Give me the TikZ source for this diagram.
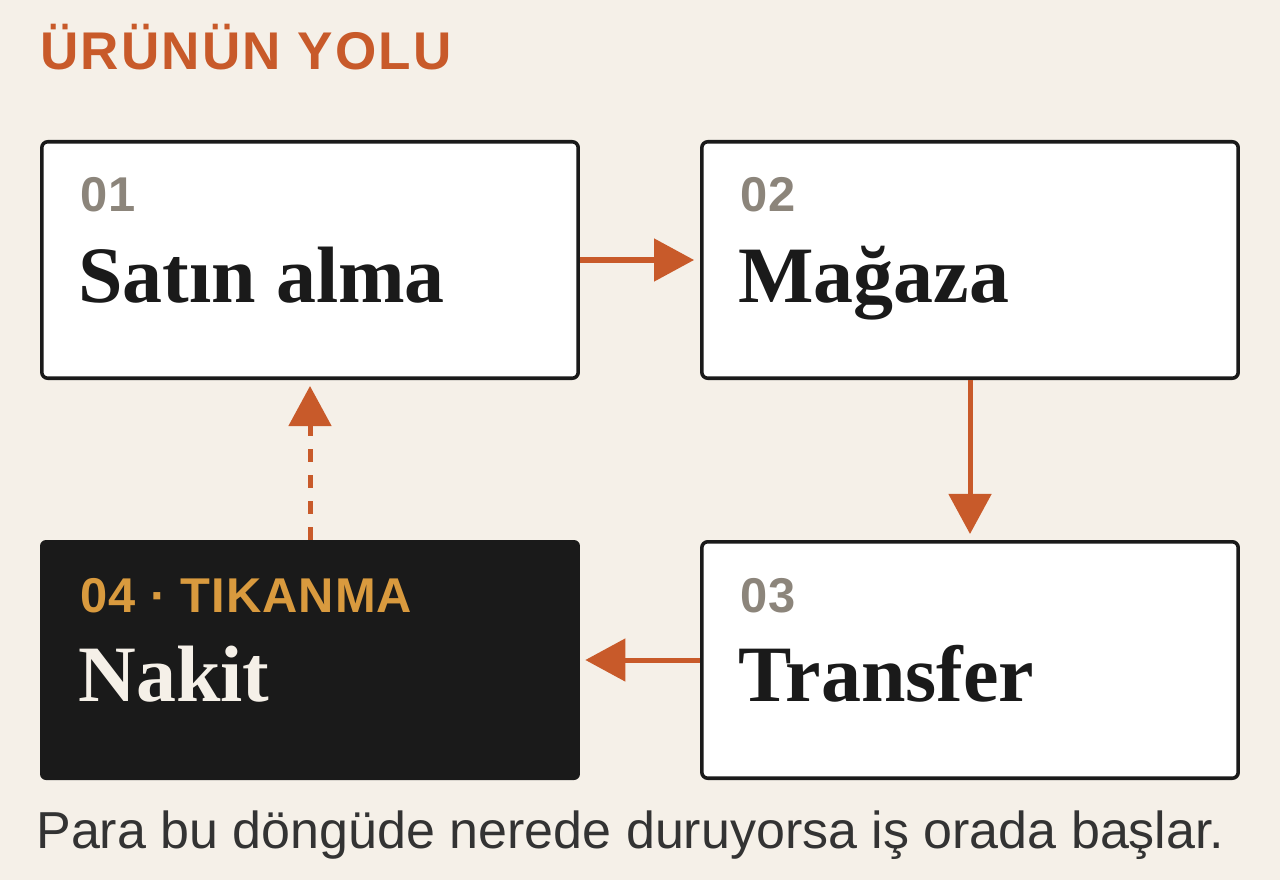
\documentclass[tikz,border=0pt]{standalone}
\usepackage{fontspec}
\setmainfont{Liberation Serif}
\setsansfont{Liberation Sans}
\usetikzlibrary{arrows.meta}
\definecolor{paper}{HTML}{F5F0E8}
\definecolor{rust}{HTML}{C85A2A}
\definecolor{ink}{HTML}{1A1A1A}
\definecolor{stone}{HTML}{8C857B}
\definecolor{ochre}{HTML}{D99A3E}
\definecolor{note}{HTML}{333333}
\newcommand{\headfont}{\sffamily\bfseries\addfontfeatures{LetterSpace=4}\fontsize{30.2pt}{34pt}\selectfont}
\newcommand{\boxnumfont}{\sffamily\bfseries\addfontfeatures{LetterSpace=2}\fontsize{27.8pt}{30pt}\selectfont}
\newcommand{\boxtitlefont}{\rmfamily\bfseries\fontsize{45.5pt}{48pt}\selectfont}
\newcommand{\notefont}{\sffamily\fontsize{29.6pt}{33pt}\selectfont}
\tikzset{
  stepbox/.style={draw=ink, fill=white, line width=2pt, rounded corners=3.4pt,
    minimum width=305.3pt, minimum height=134.6pt, inner sep=0pt},
  jambox/.style={fill=ink, rounded corners=3.4pt,
    minimum width=307.3pt, minimum height=136.6pt, inner sep=0pt},
  flow/.style={draw=rust, line width=2.85pt,
    -{Triangle[length=22.8pt, width=23.9pt]}},
  label/.style={anchor=base west, inner sep=0pt}
}
\begin{document}
\begin{tikzpicture}[x=0.02cm, y=0.02cm]
                \path [use as bounding box, fill=paper] (0,0) rectangle (1280,880);%

                % Heading
                \node [label, text=rust] (head) at (40,810) {\headfont ÜRÜNÜN YOLU};%

                % Drawing box 01
                \node [stepbox] (satin) at (310,620) {};%
                \node [label, text=stone] (n1) at (80,668) {\boxnumfont 01};%
                \node [label, text=ink] (t1) at (78,578) {\boxtitlefont Satın alma};%

                % Drawing box 02
                \node [stepbox] (magaza) at (970,620) {};%
                \node [label, text=stone] (n2) at (740,668) {\boxnumfont 02};%
                \node [label, text=ink] (t2) at (738,578) {\boxtitlefont Mağaza};%

                % Drawing box 03
                \node [stepbox] (transfer) at (970,220) {};%
                \node [label, text=stone] (n3) at (740,268) {\boxnumfont 03};%
                \node [label, text=ink] (t3) at (738,179) {\boxtitlefont Transfer};%

                % Drawing box 04 (jam)
                \node [jambox] (nakit) at (310,220) {};%
                \node [label, text=ochre] (n4) at (80,268) {\boxnumfont 04 · TIKANMA};%
                \node [label, text=paper] (t4) at (78,179) {\boxtitlefont Nakit};%

                % Drawing arrows 01 -> 02 -> 03 -> 04
                \draw [flow, shorten >=3.4pt] (satin.east) -- (magaza.west);%
                \draw [flow, shorten >=3.4pt] (magaza.south) -- (transfer.north);%
                \draw [flow, shorten >=2.85pt] (transfer.west) -- (nakit.east);%

                % Drawing dashed arrow 04 -> 01
                \draw [flow, dash pattern=on 7.4pt off 7.4pt, shorten >=3.4pt] (nakit.north) -- (satin.south);%

                % Footnote
                \node [label, text=note] (foot) at (36,32) {\notefont Para bu döngüde nerede duruyorsa iş orada başlar.};%
\end{tikzpicture}
\end{document}
